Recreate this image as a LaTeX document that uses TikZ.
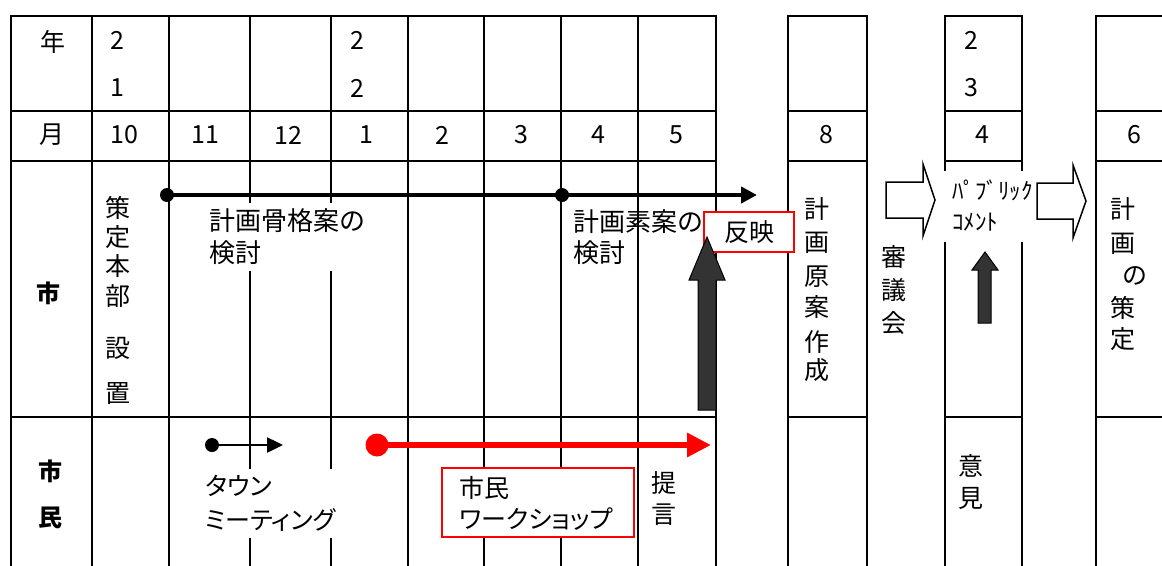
\documentclass[tikz,border=0pt]{standalone}
\usepackage{fontspec}
\setmainfont{Noto Sans CJK JP}
\newfontfamily\jpprop[RawFeature=+palt]{Noto Sans CJK JP}
\usetikzlibrary{arrows.meta}
\definecolor{darkfill}{HTML}{333333}
\definecolor{pured}{RGB}{255,0,0}
\newcommand\jpsize{\fontsize{25}{32}\selectfont}
\begin{document}
\begin{tikzpicture}[x=1pt,y=-1pt,
  gridline/.style={line width=2.5pt,line cap=rect},
  txt/.style={inner sep=0pt,font=\jpsize},
  ltxt/.style={inner sep=0pt,align=left,anchor=west},
  boldtxt/.style={inner sep=0pt,font=\fontsize{24}{30}\selectfont\bfseries},
  dot/.style={circle,fill=black,inner sep=0pt,minimum size=14pt},
  reddot/.style={circle,fill=pured,inner sep=0pt,minimum size=23pt},
  redbox/.style={draw=pured,fill=white,inner sep=0pt},
  blkarrow/.style={line width=4pt,-{Triangle[length=16pt,width=16pt]}},
  thinarrow/.style={line width=2.5pt,-{Triangle[length=16pt,width=15pt]}},
  redarrow/.style={draw=pured,line width=6pt,-{Triangle[length=24pt,width=23pt]}},
  blockarrow/.style={draw=black,line width=1.5pt,fill=white,line join=miter},
  darkarrow/.style={draw=black,line width=1pt,fill=darkfill,line join=miter},
]
\useasboundingbox (0,0) rectangle (1162,565);
\fill[white] (0,0) rectangle (1162,565);

% ---------- grid: horizontal lines ----------
\foreach \yy in {16,111,161,417} {
  \draw[gridline] (11,\yy) -- (716,\yy);
  \draw[gridline] (788,\yy) -- (867,\yy);
  \draw[gridline] (945,\yy) -- (1022,\yy);
  \draw[gridline] (1096,\yy) -- (1175,\yy);
}
% ---------- grid: vertical lines ----------
\foreach \xx in {11,92,169,408,484,561,638,716,788,867,1096}
  \draw[gridline] (\xx,16) -- (\xx,570);
\foreach \xx in {250,331} {
  \draw[gridline] (\xx,16) -- (\xx,202);
  \draw[gridline] (\xx,272) -- (\xx,468);
  \draw[gridline] (\xx,539) -- (\xx,570);
}
\foreach \xx in {945,1022} {
  \draw[gridline] (\xx,16) -- (\xx,170);
  \draw[gridline] (\xx,243) -- (\xx,570);
}

% ---------- header texts ----------
\node[txt] (nen) at (53,42) {年};
\node[txt] (tsuki) at (52,135) {月};
\node[txt] (y21a) at (117,40) {2};
\node[txt] (y21b) at (117,88) {1};
\node[txt] (y22a) at (357,40) {2};
\node[txt] (y22b) at (357,88) {2};
\node[txt] (y23a) at (971,40) {2};
\node[txt] (y23b) at (971,88) {3};
\foreach \m/\xx [count=\i] in {10/124,11/205,12/288,1/366,2/442,3/521,4/598,5/676,8/826,4/982,6/1134}
  \node[txt] (mon\i) at (\xx,135) {\m};

% ---------- row labels ----------
\node[boldtxt] (shi) at (48,293) {市};
\node[boldtxt] (shimin1) at (50,471) {市};
\node[boldtxt] (shimin2) at (50,518) {民};

% ---------- vertical texts ----------
\foreach \c/\yy [count=\i] in {策/208,定/237,本/266,部/296,設/348,置/394}
  \node[txt] (sakutei\i) at (118,\yy) {\c};
\foreach \c/\yy [count=\i] in {計/209,画/243,原/277,案/307,作/342,成/370}
  \node[txt] (gen\i) at (817,\yy) {\c};
\foreach \c/\yy [count=\i] in {審/257,議/290,会/323}
  \node[txt] (shingi\i) at (894,\yy) {\c};
\foreach \c/\xx/\yy [count=\i] in {計/1123/209,画/1123/244,の/1135/276,策/1123/308,定/1123/339}
  \node[txt] (sakutei2\i) at (\xx,\yy) {\c};
\foreach \c/\yy [count=\i] in {提/483,言/515}
  \node[txt] (teigen\i) at (664,\yy) {\c};
\foreach \c/\yy [count=\i] in {意/466,見/498}
  \node[txt] (iken\i) at (971,\yy) {\c};

% ---------- city row: black timeline ----------
\node[dot] (d1) at (167,195) {};
\node[dot] (d2) at (562,195) {};
\coordinate (t1) at (757,195);
\draw[blkarrow] (d1.center) -- (t1);
\node[ltxt,font=\fontsize{26}{32}\selectfont] (kokkaku) at (209,237) {計画骨格案の\\検討};
\node[ltxt,font=\fontsize{26}{31}\selectfont] (soan) at (573,237) {計画素案の\\検討};

% ---------- 反映 box and dark arrow ----------
\node[redbox,line width=2pt,minimum width=90pt,minimum height=40pt,font=\jpsize] (hanei) at (749,232) {反映};
\draw[darkarrow] (698,410) -- (698,280) -- (689,280) -- (707,237) -- (725,280) -- (716,280) -- (716,410) -- cycle;

% ---------- block arrows and public comment ----------
\draw[blockarrow] (886,182) -- (923,182) -- (923,164) -- (935,200) -- (923,236) -- (923,218) -- (886,218) -- cycle;
\draw[blockarrow] (1037,183) -- (1073,183) -- (1073,165) -- (1086,201) -- (1073,238) -- (1073,219) -- (1037,219) -- cycle;
\node[ltxt,font=\fontsize{23}{31}\selectfont] (pubcom) at (952,206) {ﾊﾟﾌﾞﾘｯｸ\\ｺﾒﾝﾄ};
\draw[darkarrow] (978,323) -- (978,270) -- (972,270) -- (985,252) -- (998,270) -- (991,270) -- (991,323) -- cycle;

% ---------- citizen row ----------
\node[dot] (d3) at (212,445) {};
\coordinate (t3) at (283,445);
\draw[thinarrow] (d3.center) -- (t3);
\node[ltxt,font=\jpprop\fontsize{25}{34}\selectfont] (town) at (205,503) {タウン\\ミーティング};

\node[reddot] (d4) at (377,445) {};
\coordinate (t4) at (711,445);
\draw[redarrow] (d4.center) -- (t4);

\node[redbox,line width=1.5pt,minimum width=192pt,minimum height=69pt] (wsbox) at (538,502.5) {};
\node[ltxt,font=\jpprop\fontsize{25}{31}\selectfont] (wstext) at (459,503) {市民\\ワークショップ};
\end{tikzpicture}
\end{document}
